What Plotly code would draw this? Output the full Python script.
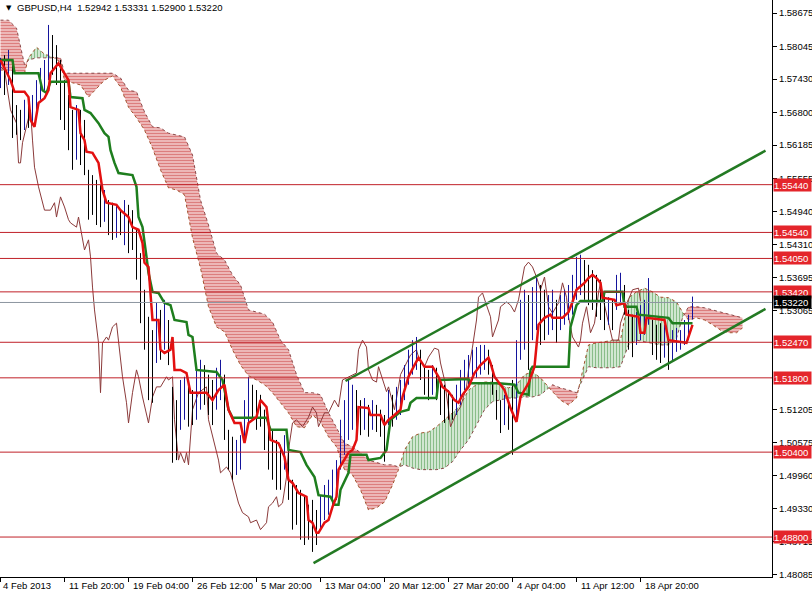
import plotly.graph_objects as go

# ---------------- data ----------------
# H4 bar index (0 = first bar on screen), bars sampled every second H4 bar
bar_idx = list(range(0, 348, 2))
bar_high = [
    1.5783, 1.5788, 1.5798, 1.5779, 1.5694, 1.5685, 1.5704, 1.5694, 1.5713, 1.5741,
    1.5764, 1.5779, 1.5845, 1.5826, 1.5807, 1.5779, 1.5741, 1.5713, 1.5685, 1.5694,
    1.5685, 1.5666, 1.5572, 1.5562, 1.5553, 1.5543, 1.5534, 1.5515, 1.5510, 1.5506,
    1.5496, 1.5515, 1.5506, 1.5496, 1.5459, 1.5415, 1.5346, 1.5295, 1.5270, 1.5321,
    1.5308, 1.5327, 1.5289, 1.5163, 1.5138, 1.5176, 1.5182, 1.5167, 1.5157, 1.5195,
    1.5214, 1.5204, 1.5186, 1.5176, 1.5199, 1.5214, 1.5186, 1.5082, 1.5069, 1.5063,
    1.5072, 1.5138, 1.5182, 1.5167, 1.5157, 1.5148, 1.5120, 1.5101, 1.5082, 1.5063,
    1.5054, 1.5072, 1.5044, 1.4988, 1.4978, 1.4969, 1.4959, 1.4941, 1.4950, 1.4931,
    1.4959, 1.4978, 1.4988, 1.5007, 1.5025, 1.5101, 1.5138, 1.5176, 1.5167, 1.5157,
    1.5138, 1.5142, 1.5129, 1.5138, 1.5129, 1.5120, 1.5110, 1.5157, 1.5148, 1.5163,
    1.5176, 1.5204, 1.5233, 1.5251, 1.5257, 1.5233, 1.5204, 1.5195, 1.5204, 1.5199,
    1.5176, 1.5167, 1.5157, 1.5148, 1.5167, 1.5195, 1.5214, 1.5223, 1.5233, 1.5238,
    1.5242, 1.5242, 1.5233, 1.5204, 1.5157, 1.5138, 1.5148, 1.5138, 1.5176, 1.5251,
    1.5327, 1.5346, 1.5336, 1.5351, 1.5368, 1.5355, 1.5346, 1.5336, 1.5346, 1.5327,
    1.5336, 1.5346, 1.5355, 1.5374, 1.5408, 1.5412, 1.5402, 1.5393, 1.5383, 1.5374,
    1.5365, 1.5336, 1.5332, 1.5327, 1.5374, 1.5378, 1.5355, 1.5308, 1.5299, 1.5304,
    1.5317, 1.5327, 1.5368, 1.5289, 1.5280, 1.5283, 1.5280, 1.5251, 1.5270, 1.5274,
    1.5270, 1.5289, 1.5299, 1.53331,
]
bar_low = [
    1.5726, 1.5713, 1.5732, 1.5632, 1.5638, 1.5628, 1.5647, 1.5651, 1.5656, 1.5685,
    1.5704, 1.5722, 1.5741, 1.5751, 1.5732, 1.5666, 1.5647, 1.5609, 1.5572, 1.5591,
    1.5581, 1.5562, 1.5478, 1.5487, 1.5468, 1.5464, 1.5474, 1.5449, 1.5440, 1.5444,
    1.5449, 1.5430, 1.5415, 1.5421, 1.5365, 1.5283, 1.5233, 1.5138, 1.5133, 1.5208,
    1.5214, 1.5233, 1.5204, 1.5020, 1.5025, 1.5082, 1.5101, 1.5088, 1.5091, 1.5101,
    1.5120, 1.5129, 1.5110, 1.5091, 1.5120, 1.5138, 1.5063, 1.5007, 1.4988, 1.4997,
    1.5007, 1.5063, 1.5091, 1.5101, 1.5082, 1.5088, 1.5044, 1.5007, 1.4988, 1.4969,
    1.4969, 1.5007, 1.4950, 1.4894, 1.4903, 1.4875, 1.4865, 1.4875, 1.4852, 1.4865,
    1.4894, 1.4912, 1.4922, 1.4931, 1.4950, 1.5007, 1.5035, 1.5063, 1.5082, 1.5082,
    1.5072, 1.5082, 1.5069, 1.5082, 1.5078, 1.5069, 1.5022, 1.5091, 1.5088, 1.5101,
    1.5110, 1.5138, 1.5167, 1.5186, 1.5195, 1.5176, 1.5148, 1.5138, 1.5148, 1.5138,
    1.5110, 1.5095, 1.5101, 1.5101, 1.5110, 1.5129, 1.5157, 1.5167, 1.5176, 1.5180,
    1.5186, 1.5195, 1.5186, 1.5148, 1.5101, 1.5076, 1.5091, 1.5082, 1.5035, 1.5101,
    1.5214, 1.5233, 1.5195, 1.5251, 1.5270, 1.5242, 1.5251, 1.5261, 1.5270, 1.5246,
    1.5270, 1.5280, 1.5289, 1.5299, 1.5327, 1.5336, 1.5327, 1.5317, 1.5308, 1.5295,
    1.5289, 1.5270, 1.5280, 1.5270, 1.5308, 1.5317, 1.5299, 1.5233, 1.5219, 1.5242,
    1.5251, 1.5261, 1.5280, 1.5223, 1.5214, 1.5208, 1.5218, 1.5195, 1.5210, 1.5229,
    1.5233, 1.5242, 1.5251, 1.52900,
]

tenkan_x = [0, 4, 5, 7, 12, 14, 15, 17, 19, 22, 24, 25, 29, 31, 34, 35, 39, 40, 42, 43,
            46, 49, 50, 51, 53, 58, 60, 64, 66, 69, 71, 72, 74, 75, 76, 79, 80, 82, 85, 86,
            87, 90, 93, 95, 103, 106, 109, 112, 114, 117, 120, 122, 124, 128, 130, 133, 135, 139, 142, 144,
            146, 149, 153, 154, 156, 158, 159, 162, 164, 166, 168, 169, 172, 174, 176, 178, 179, 184, 185, 190,
            192, 194, 197, 200, 201, 204, 207, 209, 212, 216, 219, 221, 224, 227, 229, 231, 234, 237, 240, 244,
            245, 247, 252, 255, 258, 260, 264, 267, 269, 272, 275, 276, 281, 284, 286, 288, 292, 294, 296, 298,
            300, 301, 307, 308, 312, 313, 319, 320, 322, 323, 332, 334, 343, 346]
tenkan_y = [1.5779, 1.5747, 1.5741, 1.5719, 1.5719, 1.5709, 1.5666, 1.5653, 1.5698, 1.5707,
            1.5722, 1.5754, 1.5773, 1.5760, 1.5741, 1.5690, 1.5685, 1.5641, 1.5628, 1.5606,
            1.5604, 1.5585, 1.5559, 1.5534, 1.5510, 1.5506, 1.5496, 1.5483, 1.5464, 1.5459,
            1.5434, 1.5397, 1.5389, 1.5332, 1.5289, 1.5289, 1.5233, 1.5227, 1.5233, 1.5257,
            1.5195, 1.5195, 1.5189, 1.5152, 1.5152, 1.5138, 1.5157, 1.5167, 1.5120, 1.5095,
            1.5095, 1.5057, 1.5095, 1.5106, 1.5138, 1.5125, 1.5063, 1.5057, 1.5031, 1.4988,
            1.4982, 1.4963, 1.4956, 1.4912, 1.4907, 1.4888, 1.4888, 1.4907, 1.4912, 1.4937,
            1.4956, 1.5007, 1.5025, 1.5039, 1.5044, 1.5063, 1.5125, 1.5123, 1.5110, 1.5110,
            1.5091, 1.5101, 1.5110, 1.5120, 1.5144, 1.5182, 1.5204, 1.5218, 1.5201, 1.5201,
            1.5182, 1.5163, 1.5154, 1.5138, 1.5133, 1.5148, 1.5163, 1.5189, 1.5204, 1.5218,
            1.5208, 1.5182, 1.5157, 1.5123, 1.5097, 1.5144, 1.5170, 1.5201, 1.5280, 1.5293,
            1.5299, 1.5293, 1.5293, 1.5304, 1.5323, 1.5346, 1.5359, 1.5368, 1.5374, 1.5368,
            1.5359, 1.5331, 1.5327, 1.5317, 1.5321, 1.5299, 1.5295, 1.5265, 1.5265, 1.5293,
            1.5289, 1.5251, 1.5246, 1.5280]

kijun_x = [0, 6, 7, 19, 21, 23, 25, 34, 35, 41, 42, 45, 49, 52, 54, 55, 57, 59, 66, 68,
           69, 71, 73, 74, 76, 79, 82, 85, 87, 93, 94, 96, 98, 108, 111, 114, 116, 133, 135, 143,
           144, 150, 153, 157, 159, 165, 167, 169, 170, 174, 175, 183, 184, 190, 193, 195, 200, 204, 205, 208,
           218, 219, 234, 235, 249, 257, 259, 264, 265, 266, 284, 285, 288, 290, 301, 302, 311, 312, 318, 319,
           334, 336, 346]
kijun_y = [1.5779, 1.5779, 1.5754, 1.5754, 1.5722, 1.5717, 1.5738, 1.5738, 1.5709, 1.5707,
           1.5685, 1.5679, 1.5660, 1.5641, 1.5634, 1.5609, 1.5585, 1.5566, 1.5562, 1.5540,
           1.5483, 1.5464, 1.5408, 1.5378, 1.5342, 1.5340, 1.5321, 1.5317, 1.5289, 1.5285,
           1.5261, 1.5257, 1.5195, 1.5191, 1.5176, 1.5120, 1.5105, 1.5105, 1.5082, 1.5082,
           1.5044, 1.5040, 1.5016, 1.4993, 1.4959, 1.4956, 1.4941, 1.4941, 1.4969, 1.5001,
           1.5035, 1.5035, 1.5025, 1.5029, 1.5044, 1.5101, 1.5116, 1.5120, 1.5133, 1.5142,
           1.5142, 1.5176, 1.5178, 1.5170, 1.5170, 1.5167, 1.5152, 1.5148, 1.5195, 1.5201,
           1.5201, 1.5276, 1.5317, 1.5325, 1.5325, 1.5342, 1.5342, 1.5314, 1.5314, 1.5299,
           1.5293, 1.5283, 1.5283]

chikou_x = [0, 2, 5, 8, 9, 10, 11, 14, 15, 16, 17, 19, 22, 25, 27, 28, 30, 32, 34, 35,
            38, 39, 41, 42, 44, 45, 46, 47, 49, 50, 51, 53, 54, 56, 58, 59, 61, 63, 64, 66,
            68, 69, 71, 74, 75, 76, 78, 80, 83, 84, 86, 87, 89, 90, 92, 93, 94, 95, 96, 99,
            103, 104, 106, 109, 110, 113, 115, 117, 119, 121, 124, 125, 128, 130, 133, 134, 136, 138, 139, 141,
            143, 144, 146, 148, 151, 154, 156, 158, 159, 162, 164, 167, 169, 171, 174, 178, 179, 181, 183, 184,
            186, 188, 189, 191, 193, 194, 197, 199, 200, 203, 205, 208, 209, 212, 214, 217, 219, 220, 222, 224,
            225, 228, 230, 233, 234, 236, 238, 239, 241, 243, 245, 246, 249, 250, 253, 255, 257, 259, 260, 262,
            264, 266, 268, 270, 272, 274, 276, 279, 281, 283, 284, 286, 289, 290, 291, 293, 295, 297, 299, 300,
            302, 304, 306, 309, 310, 314, 316, 319, 320]
chikou_y = [1.5766, 1.5760, 1.5685, 1.5660, 1.5585, 1.5585, 1.5623, 1.5666, 1.5685, 1.5628,
            1.5577, 1.5540, 1.5496, 1.5496, 1.5510, 1.5483, 1.5521, 1.5502, 1.5478, 1.5472,
            1.5464, 1.5483, 1.5446, 1.5421, 1.5440, 1.5408, 1.5351, 1.5308, 1.5246, 1.5152,
            1.5246, 1.5257, 1.5251, 1.5276, 1.5283, 1.5251, 1.5182, 1.5133, 1.5095, 1.5152,
            1.5195, 1.5182, 1.5144, 1.5095, 1.5120, 1.5144, 1.5163, 1.5163, 1.5182, 1.5176,
            1.5182, 1.5101, 1.5025, 1.5039, 1.5020, 1.5039, 1.5016, 1.5076, 1.5120, 1.5152,
            1.5163, 1.5101, 1.5069, 1.5025, 1.5001, 1.5012, 1.5001, 1.4975, 1.4944, 1.4926,
            1.4918, 1.4907, 1.4912, 1.4894, 1.4907, 1.4937, 1.4944, 1.4956, 1.4937, 1.4944,
            1.4993, 1.5044, 1.5095, 1.5101, 1.5088, 1.5106, 1.5125, 1.5114, 1.5088, 1.5114,
            1.5114, 1.5138, 1.5125, 1.5176, 1.5182, 1.5189, 1.5233, 1.5251, 1.5238, 1.5195,
            1.5176, 1.5172, 1.5201, 1.5176, 1.5154, 1.5163, 1.5120, 1.5163, 1.5186, 1.5208,
            1.5223, 1.5233, 1.5219, 1.5201, 1.5219, 1.5236, 1.5233, 1.5208, 1.5176, 1.5120,
            1.5088, 1.5114, 1.5125, 1.5163, 1.5195, 1.5238, 1.5289, 1.5332, 1.5340, 1.5317,
            1.5295, 1.5257, 1.5289, 1.5314, 1.5323, 1.5317, 1.5304, 1.5327, 1.5346, 1.5389,
            1.5398, 1.5389, 1.5370, 1.5346, 1.5370, 1.5314, 1.5302, 1.5321, 1.5359, 1.5332,
            1.5295, 1.5257, 1.5238, 1.5251, 1.5283, 1.5314, 1.5265, 1.5283, 1.5340, 1.5359,
            1.5317, 1.5283, 1.5251, 1.5251, 1.5283, 1.5327, 1.5346, 1.5349, 1.5325]

span_x = [0, 4, 8, 12, 14, 18, 22, 26, 30, 32, 36, 40, 44, 48, 52, 56, 60, 64, 68, 72,
          76, 80, 84, 88, 92, 96, 100, 104, 108, 112, 116, 120, 124, 128, 132, 136, 140, 144, 148, 152,
          156, 160, 164, 168, 172, 176, 180, 184, 188, 192, 196, 199, 202, 206, 210, 214, 218, 222, 226, 230,
          234, 238, 242, 246, 250, 254, 258, 262, 266, 270, 276, 280, 284, 288, 294, 298, 302, 306, 310, 314,
          318, 322, 326, 330, 334, 338, 341, 344, 348, 352, 356, 360, 364, 368, 371]
span_a = [1.5760, 1.5760, 1.5756, 1.5754, 1.5783, 1.5803, 1.5790, 1.5785, 1.5775, 1.5741,
          1.5736, 1.5732, 1.5709, 1.5726, 1.5741, 1.5749, 1.5728, 1.5690, 1.5670, 1.5647,
          1.5613, 1.5572, 1.5538, 1.5534, 1.5525, 1.5444, 1.5387, 1.5314, 1.5276, 1.5267,
          1.5233, 1.5204, 1.5184, 1.5176, 1.5167, 1.5152, 1.5133, 1.5114, 1.5088, 1.5086,
          1.5110, 1.5097, 1.5069, 1.5050, 1.5007, 1.4997, 1.4969, 1.4931, 1.4935, 1.4946,
          1.4978, 1.5007, 1.5044, 1.5069, 1.5076, 1.5078, 1.5088, 1.5101, 1.5114, 1.5129,
          1.5157, 1.5167, 1.5172, 1.5172, 1.5167, 1.5161, 1.5167, 1.5186, 1.5191, 1.5180,
          1.5154, 1.5138, 1.5129, 1.5142, 1.5242, 1.5246, 1.5248, 1.5251, 1.5251, 1.5331,
          1.5342, 1.5349, 1.5342, 1.5332, 1.5331, 1.5323, 1.5304, 1.5289, 1.5293, 1.5289,
          1.5280, 1.5270, 1.5265, 1.5265, 1.5274]
span_b = [1.5854, 1.5854, 1.5839, 1.5770, 1.5779, 1.5783, 1.5783, 1.5783, 1.5783, 1.5754,
          1.5754, 1.5754, 1.5754, 1.5754, 1.5754, 1.5754, 1.5745, 1.5722, 1.5719, 1.5681,
          1.5653, 1.5651, 1.5641, 1.5638, 1.5634, 1.5600, 1.5515, 1.5468, 1.5415, 1.5402,
          1.5374, 1.5355, 1.5308, 1.5304, 1.5300, 1.5285, 1.5251, 1.5233, 1.5186, 1.5152,
          1.5152, 1.5148, 1.5114, 1.5086, 1.5057, 1.5050, 1.5039, 1.5025, 1.5020, 1.5016,
          1.5016, 1.5012, 1.5016, 1.5010, 1.5007, 1.5007, 1.5007, 1.5010, 1.5022, 1.5044,
          1.5063, 1.5091, 1.5120, 1.5135, 1.5138, 1.5142, 1.5142, 1.5144, 1.5144, 1.5148,
          1.5167, 1.5161, 1.5157, 1.5152, 1.5201, 1.5199, 1.5199, 1.5199, 1.5201, 1.5242,
          1.5251, 1.5248, 1.5246, 1.5242, 1.5242, 1.5255, 1.5293, 1.5314, 1.5314, 1.5312,
          1.5308, 1.5304, 1.5300, 1.5297, 1.5293]

level_prices = [1.55440, 1.54540, 1.54050, 1.53420, 1.52470, 1.51800, 1.50400, 1.48800]
current_price = 1.53220

trend_lower_x = [156.5, 382.5]
trend_lower_y = [1.4831, 1.5310]
trend_upper_x = [172.5, 382.5]
trend_upper_y = [1.5174, 1.5608]

# scale ticks that stay at least partly visible beside the price labels
y_ticks = [1.58675, 1.58045, 1.57430, 1.56800, 1.56185, 1.55555, 1.54940, 1.54310, 1.53695,
           1.53065, 1.51205, 1.50575, 1.49960, 1.49330, 1.48715, 1.48085]
x_tick_idx = [0, 32, 64, 96, 128, 160, 192, 224, 256, 288, 320]
x_tick_labels = ["4 Feb 2013", "11 Feb 20:00", "19 Feb 04:00", "26 Feb 12:00", "5 Mar 20:00",
                 "13 Mar 04:00", "20 Mar 12:00", "27 Mar 20:00", "4 Apr 04:00", "11 Apr 12:00",
                 "18 Apr 20:00"]
title_text = "GBPUSD,H4\u00a0\u00a01.52942 1.53331 1.52900 1.53220"

FONT = "Liberation Sans"
FS = 9.5

# ---------------- figure ----------------
fig = go.Figure()


def split_cloud(xs, a, b):
    def sgn(v):
        return 1 if v > 0 else (-1 if v < 0 else 0)
    segs = []
    cur = sgn(a[0] - b[0]) or 1
    cx, ca, cb = [xs[0]], [a[0]], [b[0]]
    for i in range(1, len(xs)):
        s = sgn(a[i] - b[i]) or cur
        if s != cur:
            d0 = a[i - 1] - b[i - 1]
            d1 = a[i] - b[i]
            t = d0 / (d0 - d1) if d0 != d1 else 0
            xc = xs[i - 1] + t * (xs[i] - xs[i - 1])
            yc = a[i - 1] + t * (a[i] - a[i - 1])
            cx.append(xc); ca.append(yc); cb.append(yc)
            segs.append((cur, cx, ca, cb))
            cx, ca, cb = [xc], [yc], [yc]
            cur = s
        cx.append(xs[i]); ca.append(a[i]); cb.append(b[i])
    segs.append((cur, cx, ca, cb))
    return segs


for sign, cx, ca, cb in split_cloud(span_x, span_a, span_b):
    if sign > 0:
        pat = dict(shape="|", fgcolor="#2A862A", bgcolor="#E8F5E8", size=3, solidity=0.5)
    else:
        pat = dict(shape="-", fgcolor="#C02020", bgcolor="#F8DCDC", size=3, solidity=0.6)
    fig.add_trace(go.Scatter(
        x=cx + cx[::-1], y=ca + cb[::-1], mode="lines", fill="toself",
        fillpattern=pat, line=dict(width=0), hoverinfo="skip"))

fig.add_trace(go.Scatter(x=span_x, y=span_a, mode="lines",
                         line=dict(color="#A0522D", width=1, dash="dot"), hoverinfo="skip"))
fig.add_trace(go.Scatter(x=span_x, y=span_b, mode="lines",
                         line=dict(color="#8B4A4A", width=1, dash="dot"), hoverinfo="skip"))

# chikou span
fig.add_trace(go.Scatter(x=chikou_x, y=chikou_y, mode="lines",
                         line=dict(color="#8B3A3A", width=1), hoverinfo="skip"))

# price bars (high-low), blue when rising, black when falling
up_x, up_y, dn_x, dn_y = [], [], [], []
prev_mid = None
for i, h, l in zip(bar_idx, bar_high, bar_low):
    mid = (h + l) / 2
    rising = prev_mid is None or mid >= prev_mid
    prev_mid = mid
    tx, ty = (up_x, up_y) if rising else (dn_x, dn_y)
    tx += [i, i, None]
    ty += [l, h, None]
fig.add_trace(go.Scatter(x=up_x, y=up_y, mode="lines",
                         line=dict(color="#14149C", width=1), hoverinfo="skip"))
fig.add_trace(go.Scatter(x=dn_x, y=dn_y, mode="lines",
                         line=dict(color="#000000", width=1), hoverinfo="skip"))

# kijun and tenkan
fig.add_trace(go.Scatter(x=kijun_x, y=kijun_y, mode="lines",
                         line=dict(color="#1E7E1E", width=2.5), hoverinfo="skip"))
fig.add_trace(go.Scatter(x=tenkan_x, y=tenkan_y, mode="lines",
                         line=dict(color="#E31010", width=2.5), hoverinfo="skip"))

# channel lines
for tx, ty in ((trend_lower_x, trend_lower_y), (trend_upper_x, trend_upper_y)):
    fig.add_trace(go.Scatter(x=tx, y=ty, mode="lines",
                             line=dict(color="#237A23", width=2.5), hoverinfo="skip"))

# horizontal levels
shapes = []
for p in level_prices:
    shapes.append(dict(type="line", xref="paper", x0=0, x1=1, yref="y", y0=p, y1=p,
                       line=dict(color="#C02028", width=1), layer="above"))
shapes.append(dict(type="line", xref="paper", x0=0, x1=1, yref="y", y0=current_price,
                   y1=current_price, line=dict(color="#8C96A0", width=1), layer="above"))

annotations = []
for p in level_prices:
    annotations.append(dict(xref="paper", x=1, xanchor="left", xshift=1, yref="y", y=p,
                            yanchor="middle", text=f"{p:.5f}", showarrow=False,
                            font=dict(family=FONT, size=FS, color="white"),
                            bgcolor="#E4252B", width=37, height=12, align="left", borderpad=0))
annotations.append(dict(xref="paper", x=1, xanchor="left", xshift=1, yref="y", y=current_price,
                        yanchor="middle", text=f"{current_price:.5f}", showarrow=False,
                        font=dict(family=FONT, size=FS, color="white"),
                        bgcolor="#000000", width=37, height=12, align="left", borderpad=0))
for idx, lab in zip(x_tick_idx, x_tick_labels):
    annotations.append(dict(xref="x", x=idx, xanchor="left", xshift=2 if idx > 0 else 0,
                            yref="paper", y=0, yanchor="top", yshift=-1, text=lab,
                            showarrow=False, font=dict(family=FONT, size=FS, color="black")))
annotations.append(dict(xref="paper", x=4 / 772, xanchor="left", yref="paper", y=1,
                        yanchor="top", yshift=-2, text="\u25bc", showarrow=False,
                        font=dict(family="DejaVu Sans", size=7, color="black")))
annotations.append(dict(xref="paper", x=15 / 772, xanchor="left", yref="paper", y=1,
                        yanchor="top", yshift=0, text=title_text, showarrow=False,
                        font=dict(family=FONT, size=FS, color="black")))

fig.update_layout(
    width=812, height=593,
    margin=dict(l=0, r=40, t=0, b=16, pad=0),
    paper_bgcolor="white", plot_bgcolor="white",
    showlegend=False,
    shapes=shapes, annotations=annotations,
    xaxis=dict(range=[-0.25, 385.75], showgrid=False, zeroline=False, showline=True,
               linecolor="black", linewidth=1, ticks="outside", ticklen=4,
               tickcolor="black", tickvals=x_tick_idx, showticklabels=False),
    yaxis=dict(range=[1.48047, 1.58920], side="right", showgrid=False, zeroline=False,
               showline=True, linecolor="black", linewidth=1, ticks="outside", ticklen=4,
               tickcolor="black", tickvals=y_ticks, tickformat=".5f",
               tickfont=dict(family=FONT, size=FS, color="black")),
)

fig.write_html(
    "out.html",
    config={"displayModeBar": False, "staticPlot": True},
    post_script="document.body.style.margin='0';document.body.style.padding='0';"
                "document.documentElement.style.overflow='hidden';",
)
